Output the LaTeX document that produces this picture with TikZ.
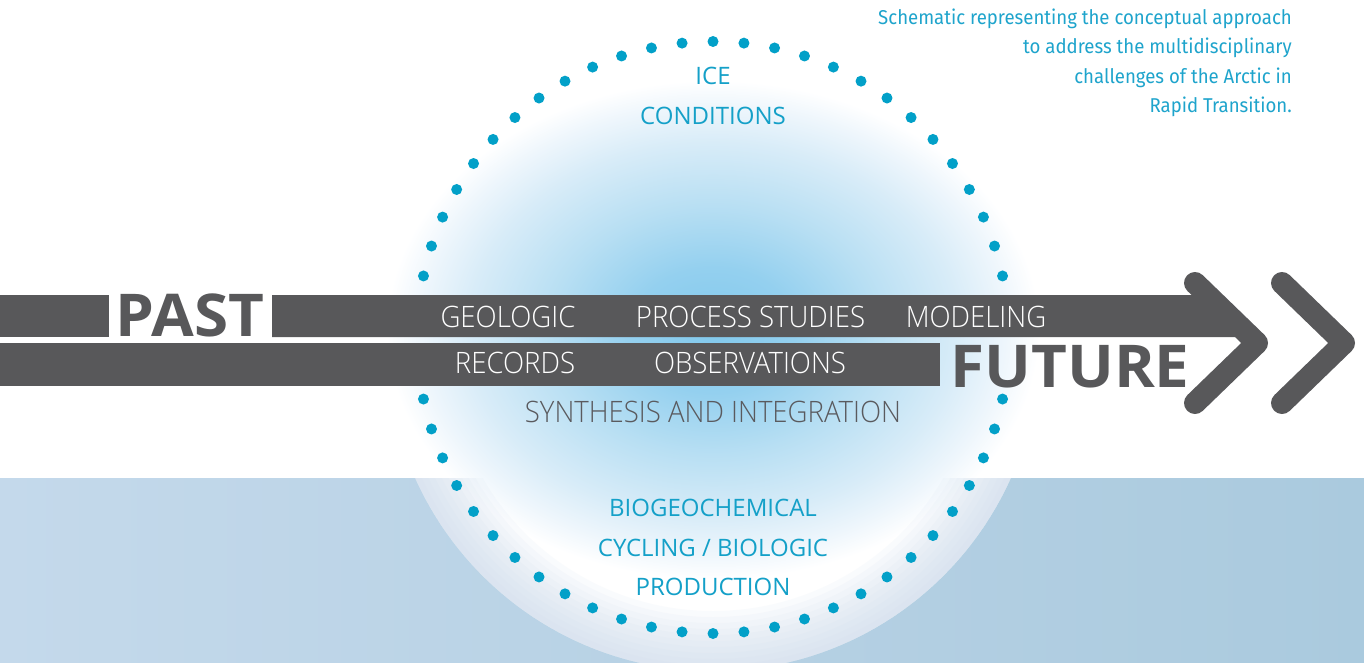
\documentclass[tikz,border=0pt]{standalone}
\usepackage{fontspec}
\setmainfont{Open Sans}
\IfFontExistsTF{Open Sans Light}{\newfontfamily\lightf{Open Sans Light}[FakeStretch=0.935]}{\newfontfamily\lightf{Open Sans}[FakeStretch=0.935]}
\newfontfamily\boldf{Open Sans}[FakeStretch=1.05]
\newfontfamily\capf{Fira Sans}[FakeStretch=0.93]
\definecolor{arrowgray}{RGB}{88,88,90}
\definecolor{dotblue}{RGB}{2,160,200}
\definecolor{blueT}{RGB}{20,160,200}
\definecolor{capblue}{RGB}{30,164,204}
\definecolor{synthgray}{RGB}{90,90,94}
\definecolor{bandL}{RGB}{196,217,235}
\definecolor{bandR}{RGB}{170,202,222}
\definecolor{ringc}{RGB}{205,220,236}
\definecolor{shA}{RGB}{130,201,236}
\definecolor{shB}{RGB}{148,208,239}
\definecolor{shC}{RGB}{184,223,243}
\definecolor{shD}{RGB}{216,236,248}
\definecolor{shE}{RGB}{238,246,252}
\pgfdeclareradialshading{glow}{\pgfpoint{0bp}{0bp}}{color(0bp)=(shA); color(6bp)=(shB); color(12bp)=(shC); color(18bp)=(shD); color(21.5bp)=(shE); color(24bp)=(white); color(25bp)=(white); color(50bp)=(white)}
\tikzset{
  armlbl/.style={font=\lightf\fontsize{29.5}{30}\selectfont, text=white, anchor=base, inner sep=0pt},
  synlbl/.style={font=\lightf\fontsize{29.5}{30}\selectfont, text=synthgray, anchor=base, inner sep=0pt},
  bluelbl/.style={font=\fontsize{24}{26}\selectfont, text=blueT, anchor=base, inner sep=0pt},
  bigword/.style={font=\boldf\bfseries\fontsize{59}{60}\selectfont, text=arrowgray, anchor=base, inner sep=0pt},
  caplbl/.style={font=\capf\fontsize{20}{22}\selectfont, text=capblue, anchor=base east, inner sep=0pt},
  chevron/.style={draw=arrowgray, line width=22pt, line cap=round, line join=round},
}
\begin{document}
\begin{tikzpicture}[x=1pt,y=-1pt]
\useasboundingbox (0,0) rectangle (1364,663);
\fill[white] (0,0) rectangle (1364,663);
% blue band
\fill[left color=bandL, right color=bandR] (0,478) rectangle (1364,663);
% disk base on the band
\begin{scope}
  \clip (0,478) rectangle (1364,663);
  \fill[white] (713,345) circle (326);
\end{scope}
% elliptical glow inside the disk
\begin{scope}
  \clip (713,345) circle (326);
  \shade[shading=glow] (713,330) ellipse (340 and 260);
\end{scope}
% soft rim of the disk on the band
\begin{scope}
  \clip (0,478) rectangle (1364,663);
  \foreach \i in {1,...,10}{
    \fill[ringc, fill opacity=0.1, even odd rule] (713,345) circle (326) (713,345) circle ({326-6*\i});
  }
\end{scope}
% dotted circle
\foreach \k in {0,...,59}{
  \pgfmathtruncatemacro{\skip}{(\k>13)*(\k<17) + (\k>43)*(\k<47)}
  \ifnum\skip=0
    \fill[dotblue] ({713+296*cos(90+6*\k)},{337.5-296*sin(90+6*\k)}) circle (5.5);
  \fi
}
% arrow bars
\fill[arrowgray] (0,295) rectangle (109,337);
\fill[arrowgray] (272,295) -- (1207,295) -- (1251,337) -- (272,337) -- cycle;
\fill[arrowgray] (0,343) rectangle (940,386);
\draw[chevron] (1195,283) -- (1257,343) -- (1195,403);
\draw[chevron] (1282,283) -- (1344,343) -- (1282,403);
% big words
\node[bigword] (past) at (190,336) {PAST};
\node[bigword] (future) at (1070,387) {FUTURE};
% arrow labels
\node[armlbl] (geo) at (508,327) {GEOLOGIC};
\node[armlbl] (proc) at (750.5,327) {PROCESS STUDIES};
\node[armlbl] (model) at (976,327) {MODELING};
\node[armlbl] (rec) at (515,373) {RECORDS};
\node[armlbl] (obs) at (750,373) {OBSERVATIONS};
\node[synlbl] (syn) at (713,422) {SYNTHESIS AND INTEGRATION};
% blue labels
\node[bluelbl] (ice) at (713,85) {ICE};
\node[bluelbl] (cond) at (713,125) {CONDITIONS};
\node[bluelbl] (bio1) at (713,516) {BIOGEOCHEMICAL};
\node[bluelbl] (bio2) at (713,556) {CYCLING / BIOLOGIC};
\node[bluelbl] (bio3) at (713,595) {PRODUCTION};
% caption
\node[caplbl] (c1) at (1292,25) {Schematic representing the conceptual approach};
\node[caplbl] (c2) at (1292,54) {to address the multidisciplinary};
\node[caplbl] (c3) at (1292,84) {challenges of the Arctic in};
\node[caplbl] (c4) at (1292,113) {Rapid Transition.};
\end{tikzpicture}
\end{document}
